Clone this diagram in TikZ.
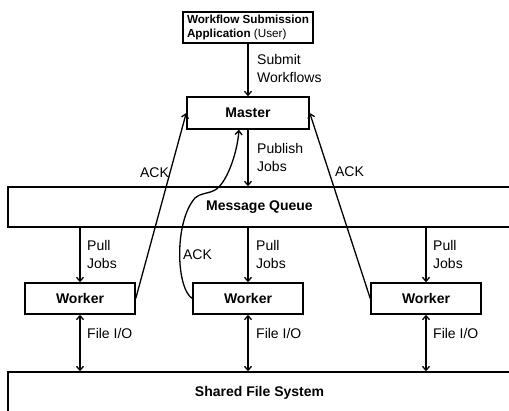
\documentclass[tikz,border=0pt]{standalone}
\usepackage{fontspec}
\setmainfont{Liberation Sans}
\usetikzlibrary{arrows.meta}
\begin{document}
\begin{tikzpicture}[x=1pt,y=-1pt,
  box/.style={draw, line width=1.5pt, rectangle, inner sep=0pt, font=\fontsize{14}{17}\selectfont\bfseries},
  conn/.style={line width=1.3pt, -{Straight Barb[length=4pt,width=7pt]}},
  both/.style={line width=1.3pt, {Straight Barb[length=4pt,width=7pt]}-{Straight Barb[length=4pt,width=7pt]}},
  lbl/.style={font=\fontsize{14}{18}\selectfont, align=left, anchor=west, inner sep=0pt},
  ack/.style={font=\fontsize{14}{17}\selectfont, inner sep=0pt}]
\useasboundingbox (0,0) rectangle (509,411);
\clip (0,0) rectangle (509,411);
% boxes
\node[box, minimum width=130pt, minimum height=31pt, align=left, font=\fontsize{11.7}{14}\selectfont] (app) at (248,27.5) {\textbf{Workflow Submission}\\\textbf{Application} (User)};
\node[box, minimum width=122pt, minimum height=32pt] (master) at (248,113) {Master};
\node[box, minimum width=503pt, minimum height=40pt] (mq) at (259.5,207) {Message Queue};
\node[box, minimum width=110pt, minimum height=31pt] (lw) at (80,298.5) {Worker};
\node[box, minimum width=110pt, minimum height=31pt] (mw) at (248,298.5) {Worker};
\node[box, minimum width=110pt, minimum height=31pt] (rw) at (426,298.5) {Worker};
\node[box, minimum width=503pt, minimum height=42pt] (fs) at (259.5,393) {Shared File System};
% connectors
\draw[conn] (app.south) -- (master.north);
\draw[conn] (master.south) -- (master.south |- mq.north);
\draw[conn] (lw.north |- mq.south) -- (lw.north);
\draw[conn] (mw.north |- mq.south) -- (mw.north);
\draw[conn] (rw.north |- mq.south) -- (rw.north);
\draw[both] (lw.south) -- (lw.south |- fs.north);
\draw[both] (mw.south) -- (mw.south |- fs.north);
\draw[both] (rw.south) -- (rw.south |- fs.north);
\draw[conn] (lw.east) -- (master.west);
\draw[conn] (rw.west) -- (master.east);
\coordinate (mtip) at ([xshift=-9pt]master.south);
\draw[conn] (mw.west) .. controls (176,288) and (174,222) .. (195,198)
  .. controls (200,193) and (208,194) .. (215,190)
  .. controls (226,184) and (237,155) .. (mtip);
% labels
\node[lbl] (t1) at (257,69) {Submit\\Workflows};
\node[lbl] (t2) at (257,157) {Publish\\Jobs};
\node[lbl] (t3) at (87,254) {Pull\\Jobs};
\node[lbl] (t4) at (256,254) {Pull\\Jobs};
\node[lbl] (t5) at (433,254) {Pull\\Jobs};
\node[lbl] (t6) at (87,333) {File I/O};
\node[lbl] (t7) at (256,333) {File I/O};
\node[lbl] (t8) at (433,333) {File I/O};
\node[ack] (a1) at (154.5,173) {ACK};
\node[ack] (a2) at (349.5,172) {ACK};
\node[ack] (a3) at (197.5,255) {ACK};
\end{tikzpicture}
\end{document}
